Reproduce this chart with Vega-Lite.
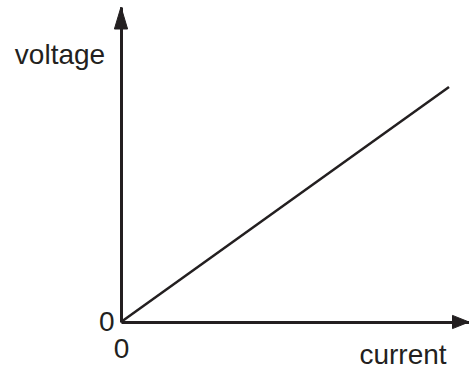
{
  "$schema": "https://vega.github.io/schema/vega-lite/v6.json",
  "width": 348,
  "height": 315,
  "autosize": {"type": "none"},
  "padding": {"left": 121, "top": 7, "right": 0, "bottom": 47},
  "background": "white",
  "config": {
    "view": {"stroke": null},
    "font": "Liberation Sans"
  },
  "layer": [
    {
      "data": {"values": [{"current": 0, "voltage": 0}, {"current": 328, "voltage": 235}]},
      "mark": {"type": "line", "color": "#231f20", "strokeWidth": 2.5},
      "encoding": {
        "x": {
          "field": "current", "type": "quantitative",
          "scale": {"domain": [0, 348], "nice": false, "zero": true},
          "axis": {
            "values": [0], "ticks": false, "grid": false, "labelFlush": false,
            "domainColor": "#231f20", "domainWidth": 3,
            "labelFontSize": 28, "labelColor": "#231f20", "labelPadding": 13,
            "labelFont": "Liberation Sans",
            "title": "current", "titleFontSize": 28, "titleFontWeight": "normal",
            "titleColor": "#231f20", "titleFont": "Liberation Sans",
            "titleX": 281.5, "titleY": 41, "titleAlign": "center", "titleBaseline": "alphabetic"
          }
        },
        "y": {
          "field": "voltage", "type": "quantitative",
          "scale": {"domain": [0, 315], "nice": false, "zero": true},
          "axis": {
            "values": [0], "ticks": false, "grid": false, "labelFlush": false,
            "domainColor": "#231f20", "domainWidth": 3,
            "labelFontSize": 28, "labelColor": "#231f20", "labelPadding": 7,
            "labelFont": "Liberation Sans",
            "title": "voltage", "titleFontSize": 28, "titleFontWeight": "normal",
            "titleColor": "#231f20", "titleFont": "Liberation Sans", "titleAngle": 0,
            "titleX": -61.5, "titleY": 56, "titleAlign": "center", "titleBaseline": "alphabetic"
          }
        }
      }
    },
    {
      "data": {"values": [{"current": 0, "voltage": 315}]},
      "mark": {"type": "point", "shape": "M0,0L-0.6,2L0.6,2Z", "size": 484, "filled": true, "opacity": 1, "color": "#231f20", "stroke": "#231f20", "strokeWidth": 1},
      "encoding": {
        "x": {"field": "current", "type": "quantitative"},
        "y": {"field": "voltage", "type": "quantitative"}
      }
    },
    {
      "data": {"values": [{"current": 348, "voltage": 0}]},
      "mark": {"type": "point", "shape": "M0,0L-1.5,-0.6L-1.5,0.6Z", "size": 484, "filled": true, "opacity": 1, "color": "#231f20", "stroke": "#231f20", "strokeWidth": 1},
      "encoding": {
        "x": {"field": "current", "type": "quantitative"},
        "y": {"field": "voltage", "type": "quantitative"}
      }
    }
  ]
}
